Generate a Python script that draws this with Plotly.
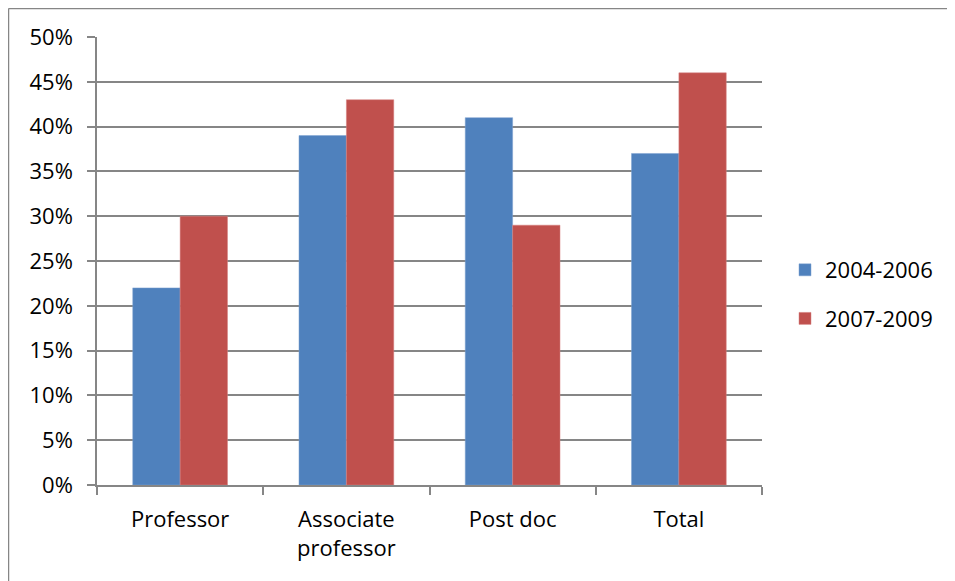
import plotly.graph_objects as go

categories = ["Professor", "Associate<br>professor", "Post doc", "Total"]
series_names = ["2004-2006", "2007-2009"]
values_2004_2006 = [0.22, 0.39, 0.41, 0.37]
values_2007_2009 = [0.30, 0.43, 0.29, 0.46]
y_ticks = [0, 0.05, 0.10, 0.15, 0.20, 0.25, 0.30, 0.35, 0.40, 0.45, 0.50]
y_ticklabels = ["0%", "5%", "10%", "15%", "20%", "25%", "30%", "35%", "40%", "45%", "50%"]

# page has an 8px body margin; figure coordinates below are page - 8
W, H = 947, 573
L, R, T, B = 89, 754, 29, 477

fig = go.Figure()
fig.add_trace(go.Bar(x=categories, y=values_2004_2006, name=series_names[0], legendgroup="a",
                     marker=dict(color="#4F81BD", line=dict(color="#7FA3D0", width=0.5))))
fig.add_trace(go.Bar(x=categories, y=values_2007_2009, name=series_names[1], legendgroup="b",
                     marker=dict(color="#C0504D", line=dict(color="#D68380", width=0.5))))

font = dict(family="Open Sans, Noto Sans, sans-serif", size=22, color="#000000")
pw, ph = R - L, B - T

fig.update_layout(
    width=W, height=H,
    margin=dict(l=L, r=W - R, t=T, b=H - B, pad=0),
    paper_bgcolor="white", plot_bgcolor="white",
    barmode="group", bargap=0.43, bargroupgap=0,
    font=font,
    showlegend=True,
    legend=dict(x=(777 - L) / pw, y=(B - 286.5) / ph, xanchor="left", yanchor="middle",
                font=dict(size=22), tracegroupgap=17, traceorder="grouped",
                bgcolor="rgba(0,0,0,0)"),
    xaxis=dict(showgrid=False, showline=True, linecolor="#868686", linewidth=1.5,
               ticks="outside", ticklen=8, tickcolor="#868686", tickwidth=1.5,
               tickson="boundaries", tickfont=dict(size=22), ticklabelstandoff=14),
    yaxis=dict(range=[0, 0.5], tickvals=y_ticks, ticktext=y_ticklabels,
               showgrid=True, gridcolor="#868686", gridwidth=1.5,
               showline=True, linecolor="#868686", linewidth=1.5,
               ticks="outside", ticklen=8, tickcolor="#868686", tickwidth=1.5,
               zeroline=False, tickfont=dict(size=22), ticklabelstandoff=10),
    shapes=[
        dict(type="line", xref="paper", yref="paper",
             x0=(0.5 - L) / pw, x1=(W + 5 - L) / pw,
             y0=(B - 0.5) / ph, y1=(B - 0.5) / ph,
             line=dict(color="#868686", width=1.5)),
        dict(type="line", xref="paper", yref="paper",
             x0=(0.5 - L) / pw, x1=(0.5 - L) / pw,
             y0=(B - 0.5) / ph, y1=-(H - B + 10) / ph,
             line=dict(color="#868686", width=1.5)),
    ],
)

fig.write_html("out.html")
